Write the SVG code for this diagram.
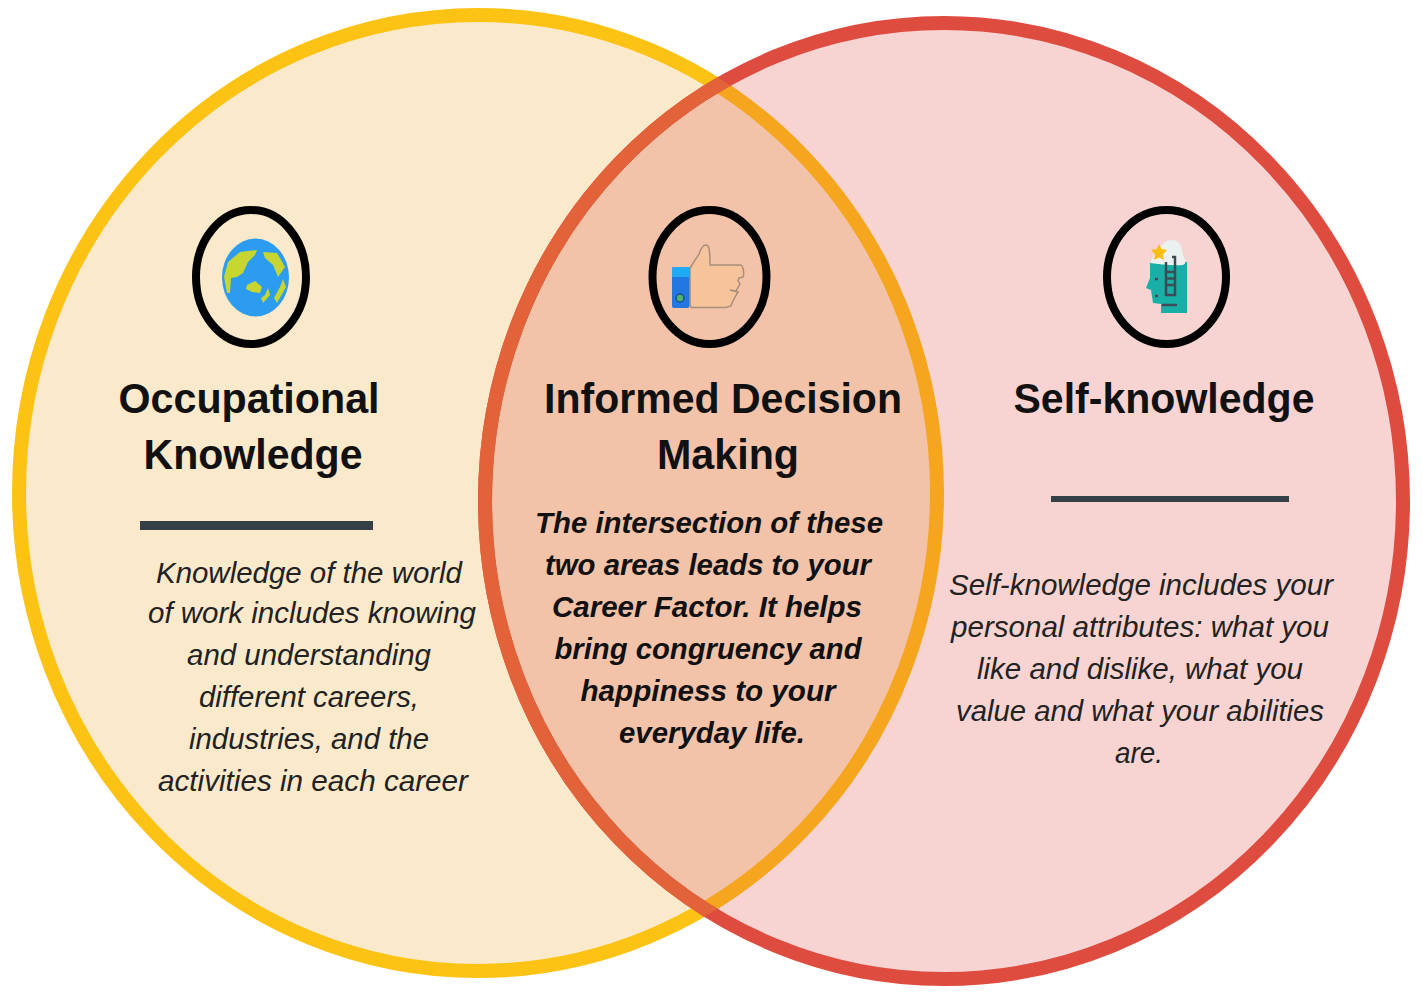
<svg xmlns="http://www.w3.org/2000/svg" width="1422" height="1000" viewBox="0 0 1422 1000">
<style>
.h{font:bold 43px "Liberation Sans",Arial,sans-serif;fill:#111;text-anchor:middle}
.b{font:italic 30px "Liberation Sans",Arial,sans-serif;fill:#222;text-anchor:middle}
.m{font:italic bold 30px "Liberation Sans",Arial,sans-serif;fill:#111;text-anchor:middle}
.ring{fill:none;stroke:#000;stroke-width:8}
.rule{fill:#353f48}
</style>
<defs>
<clipPath id="inY"><ellipse cx="478" cy="493" rx="466" ry="485"/></clipPath>
</defs>
<rect width="1422" height="1000" fill="#fff"/>
<g id="circles">
<ellipse id="occupational-circle" cx="478" cy="493" rx="459" ry="478" fill="#FAE9CB" stroke="#FDC314" stroke-width="14"/>
<ellipse id="self-circle-fill" cx="944" cy="501" rx="459" ry="478" fill="#DE4B3F" fill-opacity=".24"/>
<ellipse id="self-circle" cx="944" cy="501" rx="459" ry="478" fill="none" stroke="#DE4B3F" stroke-width="14"/>
<ellipse cx="944" cy="501" rx="459" ry="478" fill="none" stroke="#E2623A" stroke-width="14" clip-path="url(#inY)"/>
</g>
<g id="occupational">
<ellipse class="ring" cx="251" cy="277" rx="55" ry="67"/>
<ellipse cx="255.5" cy="277.5" rx="33.5" ry="39" fill="#2C9CF0"/>
<path fill="#C6D52F" d="M257 250L240 252L228 262L224 277L227 293L230 293L231 278L237 277L243 273L248 262L255 255ZM263 252L277 253L285 267L278 277L273 265L265 258ZM247 285L255 281L262 287L260 293L252 292L246 289ZM268 288L270 295L263 303L261 298L265 295ZM283 279L286 287L277 303L274 298L280 287Z"/>
<rect class="rule" x="140" y="521" width="233" height="9"/>
<text class="h" x="249" y="413" textLength="261" lengthAdjust="spacingAndGlyphs">Occupational</text>
<text class="h" x="253" y="469" textLength="219" lengthAdjust="spacingAndGlyphs">Knowledge</text>
<text class="b" x="309" y="583" textLength="306" lengthAdjust="spacingAndGlyphs">Knowledge of the world</text>
<text class="b" x="312" y="623" textLength="328" lengthAdjust="spacingAndGlyphs">of work includes knowing</text>
<text class="b" x="309" y="665" textLength="244" lengthAdjust="spacingAndGlyphs">and understanding</text>
<text class="b" x="309" y="707" textLength="220" lengthAdjust="spacingAndGlyphs">different careers,</text>
<text class="b" x="309" y="749" textLength="240" lengthAdjust="spacingAndGlyphs">industries, and the</text>
<text class="b" x="313" y="791" textLength="310" lengthAdjust="spacingAndGlyphs">activities in each career</text>
</g>
<g id="decision">
<ellipse class="ring" cx="709.5" cy="277" rx="57" ry="67"/>
<path fill="#F7C39B" stroke="#A98E7E" stroke-width="1.5" d="M690 268L699 254C701 248 703 245 706 245C709 245 710 249 710 265L741 265C744 267 744 275 743 277L739 278L738 281L740 284L736 291L730 290L738 292L735 297L732 303L731 306L726 307.500L692 307.500C690 307.500 690 305 690 303Z"/>
<rect x="672" y="267" width="17.500" height="41" rx="2" fill="#2278E0"/>
<path fill="#22ABF5" d="M674 267H689.500V277H672V269Z"/>
<circle cx="680" cy="298" r="4" fill="#4BB56A" stroke="#1C4F8F" stroke-width="1.500"/>
<text class="h" x="723" y="413" textLength="358" lengthAdjust="spacingAndGlyphs">Informed Decision</text>
<text class="h" x="728" y="469" textLength="142" lengthAdjust="spacingAndGlyphs">Making</text>
<text class="m" x="709" y="533" textLength="348" lengthAdjust="spacingAndGlyphs">The intersection of these</text>
<text class="m" x="708" y="575" textLength="326" lengthAdjust="spacingAndGlyphs">two areas leads to your</text>
<text class="m" x="707" y="617" textLength="310" lengthAdjust="spacingAndGlyphs">Career Factor. It helps</text>
<text class="m" x="708" y="659" textLength="307" lengthAdjust="spacingAndGlyphs">bring congruency and</text>
<text class="m" x="708" y="701" textLength="255" lengthAdjust="spacingAndGlyphs">happiness to your</text>
<text class="m" x="712" y="743" textLength="186" lengthAdjust="spacingAndGlyphs">everyday life.</text>
</g>
<g id="self">
<ellipse class="ring" cx="1166.500" cy="277" rx="59.500" ry="67"/>
<path fill="#18B0A6" d="M1150 262L1187 262L1187 313L1161 313L1161 304L1153 303L1151 290L1146 288L1150 278Z"/>
<path fill="#EAF1F0" d="M1163 244C1166 239 1176 239 1179 243C1183 248 1182 254 1184 258C1186 261 1186 264 1183 265C1172 266 1160 264 1150 263L1156 252Z"/>
<path fill="#F9BE12" d="M1159 244L1161.500 249L1167 250L1163 254.500L1164 260L1159 257.500L1154 260L1155 254.500L1151 250L1156.500 249Z"/>
<path fill="none" stroke="#3C4B55" stroke-width="2.500" d="M1166 262V295H1175V257H1172M1166 272H1175M1166 278.500H1175M1166 285H1175M1162 305H1177M1155 279H1158M1155 296H1158"/>
<rect class="rule" x="1051" y="496" width="238" height="6"/>
<text class="h" x="1164" y="413" textLength="301" lengthAdjust="spacingAndGlyphs">Self-knowledge</text>
<text class="b" x="1141" y="595" textLength="384" lengthAdjust="spacingAndGlyphs">Self-knowledge includes your</text>
<text class="b" x="1140" y="637" textLength="378" lengthAdjust="spacingAndGlyphs">personal attributes: what you</text>
<text class="b" x="1140" y="679" textLength="326" lengthAdjust="spacingAndGlyphs">like and dislike, what you</text>
<text class="b" x="1140" y="721" textLength="368" lengthAdjust="spacingAndGlyphs">value and what your abilities</text>
<text class="b" x="1139" y="763" textLength="48" lengthAdjust="spacingAndGlyphs">are.</text>
</g>
</svg>
